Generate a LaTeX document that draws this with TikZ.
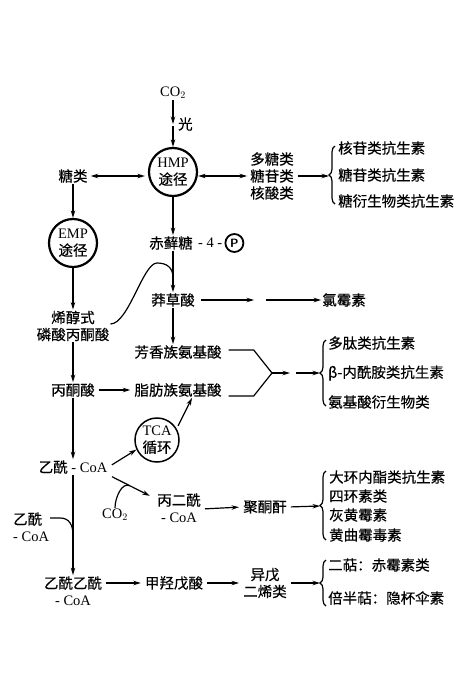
\documentclass[tikz,border=0pt]{standalone}
\usepackage{fontspec}
\setmainfont{Liberation Serif}
\newfontfamily\cjk[FakeBold=0.4]{Noto Sans CJK SC}
\usetikzlibrary{arrows.meta,positioning,decorations.pathreplacing}
\newcommand\picfs{\fontsize{14.5}{17}\selectfont}
\tikzset{
  txt/.style={font=\picfs\cjk,inner sep=1pt,align=center},
  lat/.style={font=\picfs,inner sep=1pt,align=center},
  itm/.style={txt,anchor=west},
  way/.style={circle,draw,line width=2.2pt,minimum size=48pt,inner sep=0pt,align=center,font=\picfs},
  flow/.style={-{Stealth[length=7.5pt,width=4.5pt]},line width=1.2pt},
  dflow/.style={{Stealth[length=7.5pt,width=4.5pt]}-{Stealth[length=7.5pt,width=4.5pt]},line width=1.2pt},
  grp/.style={decorate,decoration={brace,amplitude=6pt},line width=1.2pt},
  link/.style={line width=1.2pt}
}

\begin{document}
\begin{tikzpicture}[x=1pt,y=-1pt]
\useasboundingbox (0,0) rectangle (475,696);
% carbon in, HMP
\node[lat] (co2) at (173,93) {CO$_2$};
\coordinate (lc) at (173,124);
\node[txt,right=4pt of lc] (lt) {光};
\node[way] (hmp) at (173,172) {HMP\\{\cjk 途径}};
\draw[flow] (co2) -- (lc);
\draw[flow,shorten <=2pt] (lc) -- (hmp);
\node[txt] (sug) at (73,176) {糖类};
\node[txt] (poly) at (272,176) {多糖类\\糖苷类\\核酸类};
\draw[dflow,shorten <=2pt,shorten >=3pt] (sug.east) -- (sug.east -| hmp.west);
\draw[dflow,shorten >=2pt] (hmp.east |- poly.west) -- (poly.west);
\draw[grp] (335,204) -- (335,146);
\coordinate (t1) at (329,176);
\draw[flow,shorten <=3pt] (poly.east) -- (t1);
\foreach \y/\t/\n in {148/核苷类抗生素/s1,175/糖苷类抗生素/s2,201/糖衍生物类抗生素/s3} {
 \node[itm] (\n) at (337,\y) {\t};
}
% EMP and shikimate branch
\node[way] (emp) at (73,243) {EMP\\{\cjk 途径}};
\draw[flow] (sug) -- (emp);
\node[txt] (er) at (171,243) {赤藓糖};
\node[lat,right=3pt of er] (n4) {- 4 -};
\node[circle,draw,line width=1.8pt,minimum size=18pt,inner sep=0pt,font=\sffamily\bfseries\large,right=1pt of n4] (ph) {P};
\draw[flow] (hmp.south) -- (hmp.south |- er.north);
\node[txt] (shk) at (173,300) {莽草酸};
\draw[flow] (er.south -| shk.north) -- coordinate[pos=0.65] (j0) (shk.north);
\node[txt] (chl) at (344,300) {氯霉素};
\coordinate (m1) at (254,300);
\coordinate (m2) at (266,300);
\draw[flow,shorten <=5pt] (shk.east) -- (m1);
\draw[flow] (m2) -- (chl.west);
\node[txt] (pep) at (73,326) {烯醇式\\磷酸丙酮酸};
\draw[flow] (emp) -- (pep);
\draw[link] ([yshift=2pt]pep.east) .. controls +(18,0) and +(-14,0) .. (157,263)
  .. controls +(10,0) and +(0,-10) .. (j0);
\node[txt] (aro) at (178,352) {芳香族氨基酸};
\draw[flow] (shk.south) -- (shk.south |- aro.north);
\node[txt] (pyr) at (73,390) {丙酮酸};
\draw[flow] (pep) -- (pyr);
\node[txt] (ali) at (178,390) {脂肪族氨基酸};
\draw[flow,shorten <=3pt,shorten >=3pt] (pyr) -- (ali);
% amino acid fork
\coordinate (fj) at (272,373);
\draw[link,shorten <=6pt] ([yshift=2pt]aro.east) -- ++(31,0) -- (fj);
\draw[link,shorten <=6pt] ([yshift=-6pt]ali.east) -- ++(31,0) -- (fj);
\coordinate (a1) at (290,373);
\coordinate (a2) at (296,373);
\coordinate (t2) at (320,373);
\draw[flow] (fj) -- (a1);
\draw[flow] (a2) -- (t2);
\draw[grp] (326,406) -- (326,340);
\foreach \y/\t/\n in {343/多肽类抗生素/p1,373/β-内酰胺类抗生素/p2,402/氨基酸衍生物类/p3} {
 \node[itm] (\n) at (327,\y) {\t};
}
% acetyl-CoA
\node[lat] (acc) at (73,467) {{\cjk 乙酰} - CoA};
\draw[flow] (pyr) -- (acc);
\node[way,line width=1.5pt,minimum size=44pt] (tca) at (157,440) {TCA\\{\cjk 循环}};
\draw[flow,shorten <=4pt] (acc.east) -- (tca.205);
\draw[flow,shorten <=3pt] (tca.30) -- ([xshift=14pt]ali.south);
\node[lat] (mal) at (179,508) {{\cjk 丙二酰}\\- CoA};
\draw[flow,shorten <=4pt,shorten >=7pt] (acc.south east) -- coordinate[pos=0.45] (j1) ([yshift=9pt]mal.west);
\node[lat] (co2b) at (115,515) {CO$_2$};
\draw[link] (co2b.north) .. controls +(0,-10) and +(-8,-4) .. (j1);
\node[txt] (pk) at (265,507) {聚酮酐};
\draw[flow,shorten <=3pt,shorten >=3pt] ([yshift=-1pt]mal.east) -- (pk.west);
\coordinate (t3) at (320,506);
\draw[flow,shorten <=3pt] (pk.east) -- (t3);
\draw[grp] (326,540) -- (326,471);
\foreach \y/\t/\n in {477/大环内酯类抗生素/c1,496/四环素类/c2,515/灰黄霉素/c3,535/黄曲霉毒素/c4} {
 \node[itm] (\n) at (328,\y) {\t};
}
% mevalonate route
\node[lat,anchor=west,align=left] (acc2) at (12,527) {{\cjk 乙酰}\\- CoA};
\node[lat] (aca) at (73,591) {{\cjk 乙酰乙酰}\\- CoA};
\draw[flow] (acc) -- coordinate[pos=0.6] (j2) (aca);
\draw[link] ([yshift=9pt]acc2.east) -- ++(10,0) .. controls +(9,0) and +(0,-10) .. (j2);
\node[txt] (mva) at (174,583) {甲羟戊酸};
\draw[flow,shorten <=3pt,shorten >=3pt] ([yshift=8pt]aca.east) -- (mva.west);
\node[txt] (iso) at (265,583) {异戊\\二烯类};
\draw[flow,shorten <=3pt,shorten >=3pt] (mva.east) -- (iso.west);
\coordinate (t4) at (320,583);
\draw[flow,shorten <=3pt] (iso.east) -- (t4);
\draw[grp] (326,606) -- (326,560);
\node[itm] (r1) at (327,565) {二萜：赤霉素类};
\node[itm] (r2) at (327,598) {倍半萜：隐杯伞素};
\end{tikzpicture}
\end{document}
